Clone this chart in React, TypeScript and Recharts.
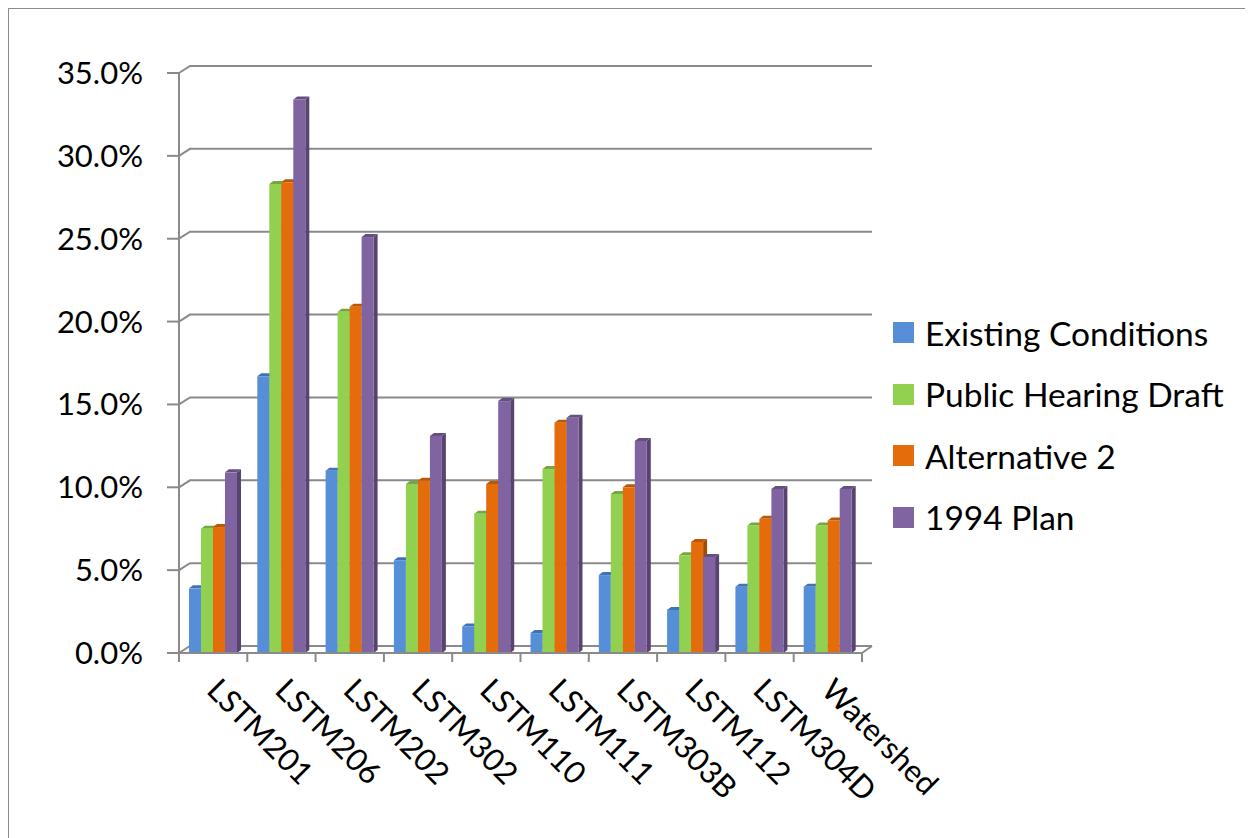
import React from "react";
import { BarChart, Bar, XAxis, YAxis, CartesianGrid } from "recharts";

// sites along the x axis
const sites = [
  "LSTM201",
  "LSTM206",
  "LSTM202",
  "LSTM302",
  "LSTM110",
  "LSTM111",
  "LSTM303B",
  "LSTM112",
  "LSTM304D",
  "Watershed",
];

// percentages per scenario
const existingConditions = [3.9, 16.7, 11.0, 5.6, 1.6, 1.2, 4.7, 2.6, 4.0, 4.0];
const publicHearingDraft = [7.5, 28.3, 20.6, 10.2, 8.4, 11.1, 9.6, 5.9, 7.7, 7.7];
const alternative2 = [7.6, 28.4, 20.9, 10.4, 10.2, 13.9, 10.0, 6.7, 8.1, 8.0];
const plan1994 = [10.9, 33.4, 25.1, 13.1, 15.2, 14.2, 12.8, 5.8, 9.9, 9.9];

const yTicks = [0, 5, 10, 15, 20, 25, 30, 35];

const series = [
  { key: "existing", name: "Existing Conditions", fill: "#568FD7", side: "#3C6AA6", top: "#3F72B8" },
  { key: "draft", name: "Public Hearing Draft", fill: "#92D050", side: "#6C9C38", top: "#74A83E" },
  { key: "alt2", name: "Alternative 2", fill: "#E46C0A", side: "#A34C06", top: "#B85708" },
  { key: "plan1994", name: "1994 Plan", fill: "#8064A2", side: "#58446F", top: "#64507F" },
];

const rows = sites.map((site, i) => ({
  site,
  existing: existingConditions[i],
  draft: publicHearingDraft[i],
  alt2: alternative2[i],
  plan1994: plan1994[i],
}));

const W = 1245;
const H = 830;
const Y_AXIS_W = 120;
const margin = { top: 65, right: 391, bottom: 35, left: 51 };
const plotW = W - margin.left - margin.right - Y_AXIS_W;
const halfBand = plotW / sites.length / 2;

const FONT = "Lato, 'Open Sans', sans-serif";
const LINE = "#8a8a8a";
const DEPTH_X = 11;
const DEPTH_Y = 7;

// columns with a shaded side and top face
function Column(props: any) {
  const { x, y, width, height, fill, side, top } = props;
  if (!height || height <= 0) return null;
  const d = 4;
  const h = 3;
  return (
    <g>
      <polygon
        points={`${x + width},${y} ${x + width + d},${y - h} ${x + width + d},${y + height - h} ${x + width},${y + height}`}
        fill={side}
      />
      <polygon
        points={`${x},${y} ${x + d},${y - h} ${x + width + d},${y - h} ${x + width},${y}`}
        fill={top}
      />
      <rect x={x} y={y} width={width} height={height} fill={fill} />
    </g>
  );
}

// gridlines sit on the back wall, joined to the front axis by a short diagonal
function gridLine(props: any) {
  const { x1, y1, x2, key } = props;
  return (
    <path
      key={key}
      d={`M${x1},${y1} L${x1 + DEPTH_X},${y1 - DEPTH_Y} L${x2 + DEPTH_X - 1},${y1 - DEPTH_Y}`}
      stroke={LINE}
      strokeWidth={2}
      fill="none"
    />
  );
}

function SiteTick(props: any) {
  const { x, y, payload, index } = props;
  const last = index === sites.length - 1;
  return (
    <g>
      <line x1={x - halfBand} y1={y} x2={x - halfBand} y2={y + 9} stroke={LINE} strokeWidth={2} />
      {last && (
        <>
          <line x1={x + halfBand} y1={y} x2={x + halfBand} y2={y + 9} stroke={LINE} strokeWidth={2} />
          <line
            x1={x + halfBand}
            y1={y}
            x2={x + halfBand + DEPTH_X - 1}
            y2={y - DEPTH_Y}
            stroke={LINE}
            strokeWidth={2}
          />
        </>
      )}
      <text
        transform={`translate(${x - 8},${y + 39}) rotate(45)`}
        textAnchor="start"
        fontSize={31}
        fontFamily={FONT}
        fill="#000"
      >
        {payload.value}
      </text>
    </g>
  );
}

function LegendBox() {
  return (
    <div
      style={{
        position: "absolute",
        left: 885,
        top: 294,
        fontFamily: FONT,
        fontSize: 33.5,
        color: "#000",
      }}
    >
      {series.map((s) => (
        <div key={s.key} style={{ display: "flex", alignItems: "center", height: 61.5 }}>
          <span style={{ width: 21, height: 21, background: s.fill, marginRight: 11, display: "inline-block" }} />
          <span style={{ whiteSpace: "nowrap" }}>{s.name}</span>
        </div>
      ))}
    </div>
  );
}

export default function App() {
  return (
    <div style={{ position: "relative", width: W, height: H, background: "#fff" }}>
      <div
        style={{
          position: "absolute",
          left: 0,
          top: 0,
          width: W,
          height: H,
          boxSizing: "border-box",
          borderLeft: "1px solid #8c8c8c",
          borderTop: "1px solid #8c8c8c",
          pointerEvents: "none",
          zIndex: 1,
        }}
      />
      <BarChart
        width={W}
        height={H}
        data={rows}
        margin={margin}
        barGap={0}
        barCategoryGap={10}
      >
        <CartesianGrid vertical={false} horizontal={gridLine} />
        <XAxis
          dataKey="site"
          interval={0}
          height={150}
          axisLine={{ stroke: LINE, strokeWidth: 2 }}
          tickLine={false}
          tickSize={0}
          tickMargin={0}
          tick={<SiteTick />}
        />
        <YAxis
          width={Y_AXIS_W}
          domain={[0, 35]}
          ticks={yTicks}
          interval={0}
          axisLine={{ stroke: LINE, strokeWidth: 2 }}
          tickLine={{ stroke: LINE, strokeWidth: 2 }}
          tickSize={12}
          tickMargin={24}
          tickFormatter={(v: number) => `${v.toFixed(1)}%`}
          tick={{ fontSize: 31, fontFamily: FONT, fill: "#000" }}
        />
        {series.map((s) => (
          <Bar
            key={s.key}
            dataKey={s.key}
            name={s.name}
            fill={s.fill}
            isAnimationActive={false}
            shape={(p: any) => <Column {...p} side={s.side} top={s.top} />}
          />
        ))}
      </BarChart>
      <LegendBox />
    </div>
  );
}
